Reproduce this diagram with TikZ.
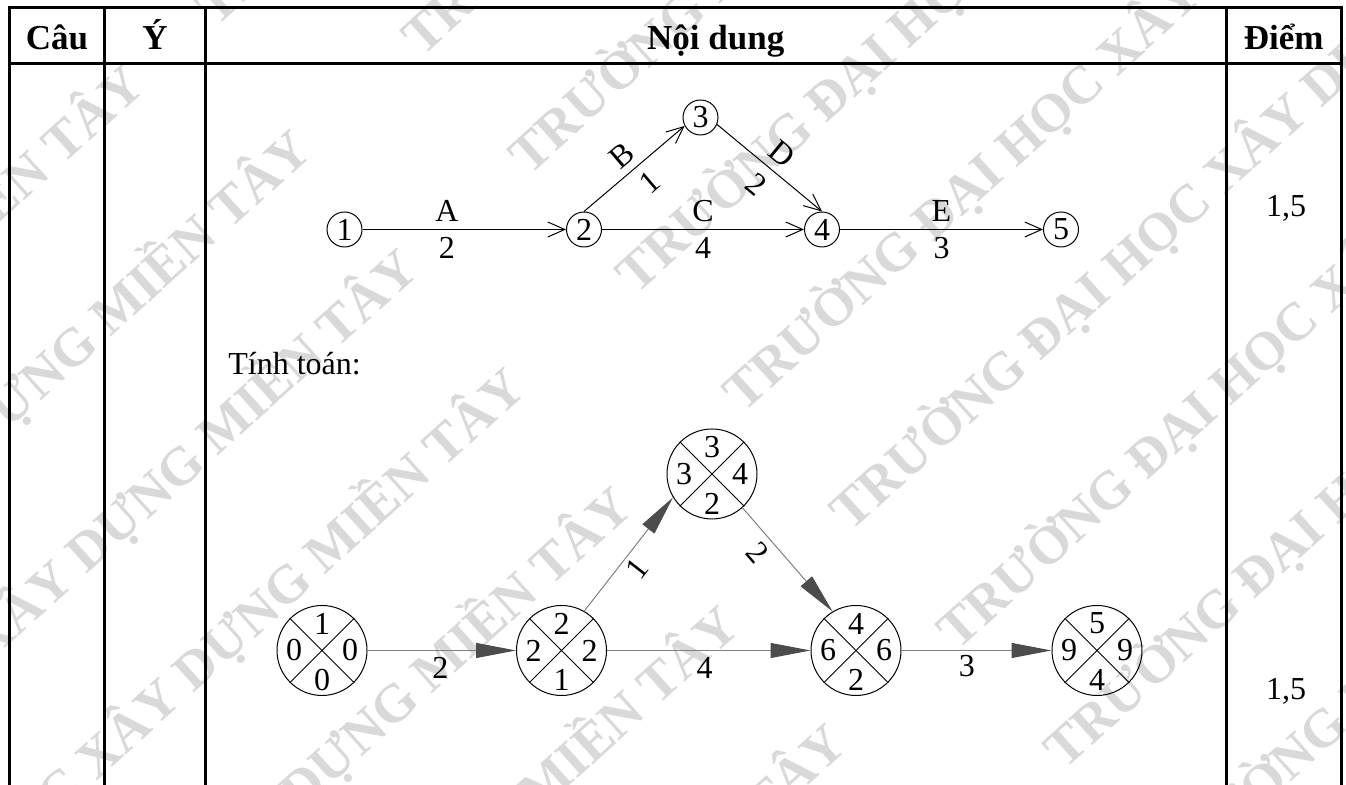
\documentclass[tikz,border=0pt]{standalone}
\usepackage{fontspec}
\setmainfont{Liberation Serif}
\usetikzlibrary{arrows.meta}
\newcommand\critnode[7]{%
  \node[bn] (#1) at (#2,#3) {};
  \draw[line width=0.5pt] (#1.45) -- (#1.225) (#1.135) -- (#1.315);
  \node[dg] (#1t) at ([yshift=13.5pt]#1.center) {#4};
  \node[dg] (#1l) at ([xshift=-14pt]#1.center) {#5};
  \node[dg] (#1r) at ([xshift=14pt]#1.center) {#6};
  \node[dg] (#1b) at ([yshift=-14.75pt]#1.center) {#7};
}
\begin{document}
\begin{tikzpicture}[x=0.5pt,y=0.5pt,
 tbl/.style={line width=1.5pt},
 hd/.style={font=\fontsize{17.5}{21}\selectfont\bfseries, anchor=base, inner sep=0pt},
 body/.style={font=\fontsize{16}{19}\selectfont, inner sep=0pt},
 sn/.style={circle, draw, line width=0.5pt, minimum size=17.5pt, inner sep=0pt, font=\fontsize{16}{19}\selectfont},
 bn/.style={circle, draw, line width=0.5pt, minimum size=45pt, inner sep=0pt},
 dg/.style={inner sep=0pt, font=\fontsize{16}{19}\selectfont},
 sarr/.style={line width=0.5pt, -{Straight Barb[length=8.5pt,width=7.5pt]}},
 barr/.style={line width=0.5pt, draw=black!50, -{Triangle[length=20pt,width=7.5pt,color=black!70]}},
 lbl/.style={inner sep=0pt, font=\fontsize{16}{19}\selectfont},
 wm/.style={inner sep=0pt, anchor=base west, rotate=42, text=black!15, font=\fontsize{27}{30}\selectfont\bfseries},
]
\useasboundingbox (0,0) rectangle (1346,785);
\fill[white] (0,0) rectangle (1346,785);

% watermark
\begin{scope}
\clip (0,0) rectangle (1346,785);
\begin{scope}[shift={(0,785)}, rotate=42]
\node[wm] (wm01) at (-1036,-165) {TRƯỜNG ĐẠI HỌC XÂY DỰNG MIỀN TÂY};
\node[wm] (wm02) at (142,-165) {TRƯỜNG ĐẠI HỌC XÂY DỰNG MIỀN TÂY};
\foreach \c [count=\i] in {307,467,627,787,947,1107,1267,1427} {
  \foreach \s [count=\j] in {-955,275} {
    \node[wm] (wm\i\j) at (\s,-\c-18) {TRƯỜNG ĐẠI HỌC XÂY DỰNG MIỀN TÂY};
  }
}
\end{scope}
\end{scope}

% table
\draw[tbl] (8.75,777.5) -- (1342.25,777.5);
\draw[tbl] (8.75,721) -- (1342.25,721);
\foreach \x in {9.5,104.5,205.5,1226,1341.5} \draw[tbl] (\x,779) -- (\x,-2);

\node[hd] (h1) at (57,735) {Câu};
\node[hd] (h2) at (155,735) {Ý};
\node[hd] (h3) at (715.75,735) {Nội dung};
\node[hd] (h4) at (1283.75,735) {Điểm};

\node[body, anchor=base west] (tt) at (228,410) {Tính toán:};
\node[body, anchor=base] (p1) at (1286,568) {1,5};
\node[body, anchor=base] (p2) at (1286,85) {1,5};

% top network
\node[sn] (n1) at (344.5,555.5) {1};
\node[sn] (n2) at (584,555.5) {2};
\node[sn] (n3) at (700.5,667.5) {3};
\node[sn] (n4) at (822,555.5) {4};
\node[sn] (n5) at (1061,555.5) {5};
\draw[sarr] (n1) -- node[lbl,pos=.415,above=3.7pt]{A} node[lbl,pos=.415,below=3.6pt]{2} (n2);
\draw[sarr] (n2) -- node[lbl,above=3.7pt]{C} node[lbl,below=3.6pt]{4} (n4);
\draw[sarr] (n4) -- node[lbl,above=3.7pt]{E} node[lbl,below=3.6pt]{3} (n5);
\draw[sarr] (n2.north) -- node[lbl,sloped,pos=.49,above=3.5pt]{B} node[lbl,sloped,pos=.52,below=4.5pt]{1} (n3.208);
\draw[sarr] (n3.-23) -- node[lbl,sloped,above=4pt]{D} node[lbl,sloped,below=5pt]{2} (n4.north);

% bottom network
\critnode{N1}{322}{134.5}{1}{0}{0}{0}
\critnode{N2}{561.5}{134.5}{2}{2}{2}{1}
\critnode{N3}{712}{311}{3}{3}{4}{2}
\critnode{N4}{856}{134.5}{4}{6}{6}{2}
\critnode{N5}{1097}{134.5}{5}{9}{9}{4}
\draw[barr] (N1) -- node[lbl,pos=.49,below=3pt]{2} (N2);
\draw[barr] (N2) -- node[lbl,pos=.48,below=3pt]{4} (N4);
\draw[barr] (N4) -- node[lbl,pos=.435,below=2pt]{3} (N5);
\draw[barr] (N2.60) -- node[lbl,sloped,pos=.46,below=2.3pt]{1} (N3.211);
\draw[barr] (N3.-48) -- node[lbl,sloped,pos=.32,below=3.4pt]{2} (N4.121);
\end{tikzpicture}
\end{document}
